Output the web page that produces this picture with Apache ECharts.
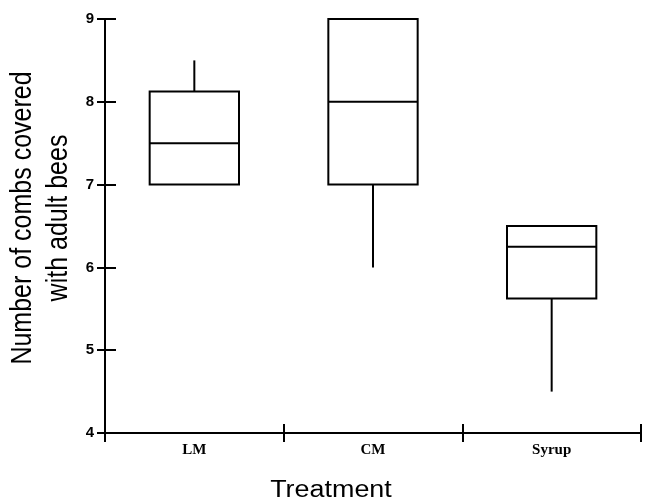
<!DOCTYPE html>
<html>
<head>
<meta charset="utf-8">
<script src="https://cdn.jsdelivr.net/npm/echarts@6/dist/echarts.min.js"></script>
<style>html,body{margin:0;padding:0;background:#fff;}#c{width:645px;height:502px;}</style>
</head>
<body>
<div id="c"></div>
<script>
const categories = ['LM', 'CM', 'Syrup'];
const lowWhisker = [7, 6, 4.5];
const q1 = [7, 7, 5.625];
const median = [7.5, 8, 6.25];
const q3 = [8.125, 9, 6.5];
const highWhisker = [8.5, 9, 6.5];
const yTitle = 'Number of combs covered\nwith adult bees';
const xTitle = 'Treatment';

const boxData = categories.map((c, i) => [i, lowWhisker[i], q1[i], median[i], q3[i], highWhisker[i]]);

const chart = echarts.init(document.getElementById('c'));
const lineStyle = { color: '#000', width: 2 };

function renderItem(params, api) {
  const i = api.value(0);
  const bw = api.size([1, 0])[0] * 0.5;
  const pLow = api.coord([i, api.value(1)]);
  const pQ1 = api.coord([i, api.value(2)]);
  const pMed = api.coord([i, api.value(3)]);
  const pQ3 = api.coord([i, api.value(4)]);
  const pHigh = api.coord([i, api.value(5)]);
  const cx = pMed[0];
  const st = { stroke: '#000', lineWidth: 2, fill: null };
  const children = [
    { type: 'rect', shape: { x: cx - bw / 2, y: pQ3[1], width: bw, height: pQ1[1] - pQ3[1] }, style: { fill: '#fff', stroke: '#000', lineWidth: 2 } },
    { type: 'line', shape: { x1: cx - bw / 2, y1: pMed[1], x2: cx + bw / 2, y2: pMed[1] }, style: st }
  ];
  if (pHigh[1] < pQ3[1]) children.push({ type: 'line', shape: { x1: cx, y1: pQ3[1], x2: cx, y2: pHigh[1] }, style: st });
  if (pLow[1] > pQ1[1]) children.push({ type: 'line', shape: { x1: cx, y1: pQ1[1], x2: cx, y2: pLow[1] }, style: st });
  return { type: 'group', children };
}

chart.setOption({
  animation: false,
  backgroundColor: '#fff',
  grid: { left: 105, right: 4, top: 19, bottom: 69 },
  xAxis: [
    {
      type: 'category', data: categories, boundaryGap: true,
      axisLine: { lineStyle: lineStyle },
      axisTick: { show: true, length: 9, alignWithLabel: false, lineStyle: lineStyle },
      axisLabel: { margin: 10, fontFamily: 'Liberation Serif', fontWeight: 'bold', fontSize: 15, color: '#000' },
      splitLine: { show: false }
    },
    {
      type: 'category', data: categories, boundaryGap: true, position: 'bottom',
      axisLine: { show: false },
      axisTick: { show: true, inside: true, length: 9, alignWithLabel: false, lineStyle: lineStyle },
      axisLabel: { show: false },
      splitLine: { show: false }
    }
  ],
  yAxis: [
    {
      type: 'value', min: 4, max: 9, interval: 1,
      axisLine: { show: true, lineStyle: lineStyle },
      axisTick: { show: true, length: 8, lineStyle: lineStyle },
      axisLabel: { margin: 11, fontFamily: 'Liberation Sans', fontWeight: 'bold', fontSize: 15, color: '#000' },
      splitLine: { show: false }
    },
    {
      type: 'value', min: 4, max: 9, interval: 1, position: 'left', offset: 0,
      axisLine: { show: false },
      axisTick: { show: true, inside: true, length: 11, lineStyle: lineStyle },
      axisLabel: { show: false },
      splitLine: { show: false }
    }
  ],
  graphic: [
    {
      type: 'text', x: 41, y: 218, rotation: Math.PI / 2, scaleY: 1.18, silent: true,
      style: { text: yTitle, font: '25px "Liberation Sans"', fill: '#000', align: 'center', verticalAlign: 'middle', lineHeight: 30 }
    },
    {
      type: 'text', x: 331, y: 491, scaleX: 1.17, silent: true,
      style: { text: xTitle, font: '23px "Liberation Sans"', fill: '#000', align: 'center', verticalAlign: 'middle' }
    }
  ],
  series: [{
    type: 'custom',
    renderItem: renderItem,
    xAxisIndex: 0, yAxisIndex: 0,
    encode: { x: 0, y: [1, 2, 3, 4, 5] },
    data: boxData,
    z: 10
  }]
});
</script>
</body>
</html>
